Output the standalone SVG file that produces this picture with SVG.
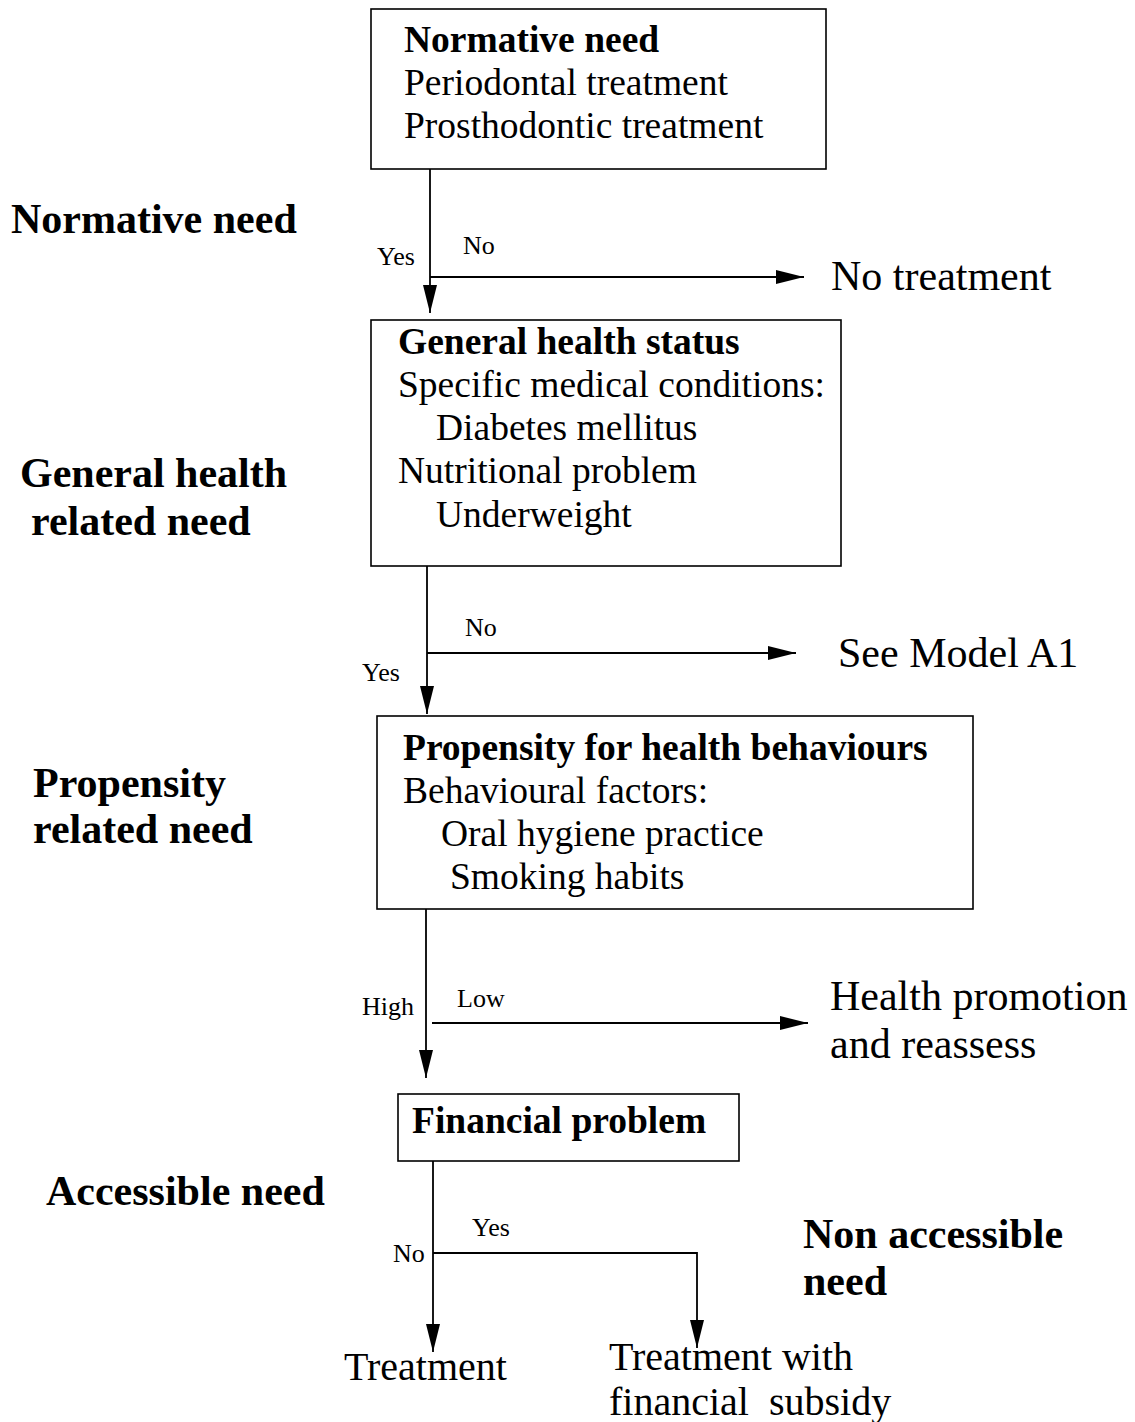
<svg xmlns="http://www.w3.org/2000/svg" width="1135" height="1422" viewBox="0 0 1135 1422">
  <style>
    text { font-family: "Liberation Serif", "Times New Roman", serif; fill: #000; }
    .box { fill: #fff; stroke: #000; stroke-width: 1.6; }
    .bt { font-size: 37.5px; }
    .b { font-weight: bold; }
    .side { font-size: 42px; font-weight: bold; }
    .out { font-size: 42px; }
    .lbl { font-size: 26px; }
    .wire { fill: none; stroke: #000; stroke-width: 1.8; }
  </style>
  <defs>
    <marker id="arrow" viewBox="0 0 28 14" refX="28" refY="7" markerWidth="28" markerHeight="14" markerUnits="userSpaceOnUse" orient="auto">
      <path d="M0,0 L28,7 L0,14 Z" fill="#000"/>
    </marker>
  </defs>

  <rect width="1135" height="1422" fill="#fff"/>

  <!-- stage labels on the left -->
  <g id="stage-labels">
    <text class="side" x="11" y="233">Normative need</text>
    <text class="side" x="20" y="487">General health</text>
    <text class="side" x="31" y="535">related need</text>
    <text class="side" x="33" y="797">Propensity</text>
    <text class="side" x="33" y="843">related need</text>
    <text class="side" x="46" y="1205">Accessible need</text>
    <text class="side" x="803" y="1248">Non accessible</text>
    <text class="side" x="803" y="1295">need</text>
  </g>

  <!-- decision boxes -->
  <g id="normative-need">
    <rect class="box" x="371" y="9" width="455" height="160"/>
    <text class="bt b" x="404" y="52">Normative need</text>
    <text class="bt" x="404" y="95">Periodontal treatment</text>
    <text class="bt" x="404" y="138">Prosthodontic treatment</text>
  </g>

  <g id="general-health">
    <rect class="box" x="371" y="320" width="470" height="246"/>
    <text class="bt b" x="398" y="354">General health status</text>
    <text class="bt" x="398" y="397">Specific medical conditions:</text>
    <text class="bt" x="436" y="440">Diabetes mellitus</text>
    <text class="bt" x="398" y="483">Nutritional problem</text>
    <text class="bt" x="436" y="527">Underweight</text>
  </g>

  <g id="propensity">
    <rect class="box" x="377" y="716" width="596" height="193"/>
    <text class="bt b" x="403" y="760">Propensity for health behaviours</text>
    <text class="bt" x="403" y="803">Behavioural factors:</text>
    <text class="bt" x="441" y="846">Oral hygiene practice</text>
    <text class="bt" x="450" y="889">Smoking habits</text>
  </g>

  <g id="financial">
    <rect class="box" x="398" y="1094" width="341" height="67"/>
    <text class="bt b" x="412" y="1133">Financial problem</text>
  </g>

  <!-- outcomes -->
  <g id="no-treatment"><text class="out" x="831" y="290">No treatment</text></g>
  <g id="model-a1"><text class="out" x="838" y="667">See Model A1</text></g>
  <g id="health-promotion">
    <text class="out" x="830" y="1010">Health promotion</text>
    <text class="out" x="830" y="1058">and reassess</text>
  </g>
  <g id="treatment"><text class="out" x="344" y="1380" style="font-size:40px">Treatment</text></g>
  <g id="treatment-subsidy">
    <text class="out" x="609" y="1370" style="font-size:40px">Treatment with</text>
    <text class="out" x="609" y="1415" style="font-size:40px" xml:space="preserve">financial  subsidy</text>
  </g>

  <!-- connectors -->
  <g id="connectors">
    <line class="wire" x1="430" y1="169" x2="430" y2="313" marker-end="url(#arrow)"/>
    <line class="wire" x1="430" y1="277" x2="804" y2="277" marker-end="url(#arrow)"/>

    <line class="wire" x1="427" y1="566" x2="427" y2="714" marker-end="url(#arrow)"/>
    <line class="wire" x1="427" y1="653" x2="796" y2="653" marker-end="url(#arrow)"/>

    <line class="wire" x1="426" y1="909" x2="426" y2="1078" marker-end="url(#arrow)"/>
    <line class="wire" x1="432" y1="1023" x2="808" y2="1023" marker-end="url(#arrow)"/>

    <line class="wire" x1="433" y1="1161" x2="433" y2="1352" marker-end="url(#arrow)"/>
    <polyline class="wire" points="433,1253 697,1253 697,1348" marker-end="url(#arrow)"/>

    <text class="lbl" x="377" y="265">Yes</text>
    <text class="lbl" x="463" y="254">No</text>
    <text class="lbl" x="465" y="636">No</text>
    <text class="lbl" x="362" y="681">Yes</text>
    <text class="lbl" x="362" y="1015">High</text>
    <text class="lbl" x="457" y="1007">Low</text>
    <text class="lbl" x="393" y="1262">No</text>
    <text class="lbl" x="472" y="1236">Yes</text>
  </g>
</svg>
